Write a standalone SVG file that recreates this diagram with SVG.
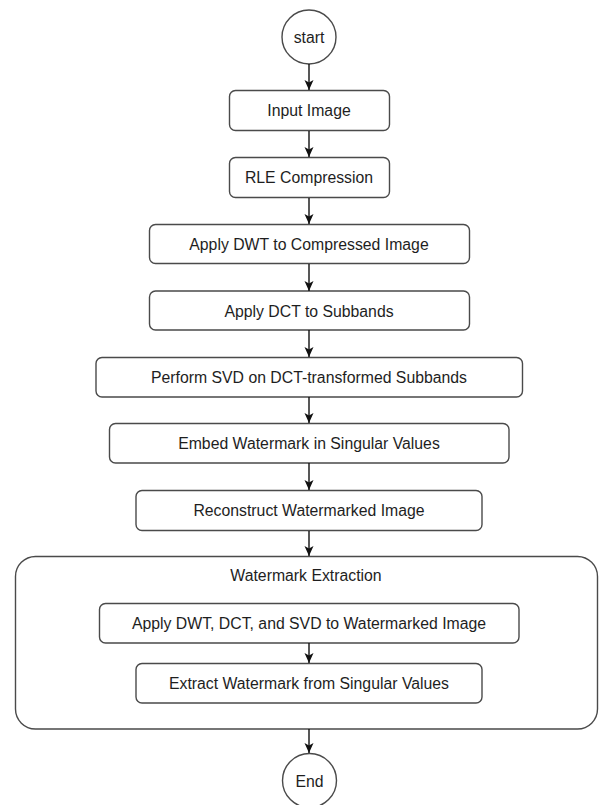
<svg xmlns="http://www.w3.org/2000/svg" width="599" height="805" viewBox="0 0 599 805">
<defs>
<style>
.box{fill:#fff;stroke:#4a4a4a;stroke-width:1.4}
.lbl{font-family:"Liberation Sans",Arial,sans-serif;font-size:15.8px;fill:#1e1e1e;text-anchor:middle}
.edge{stroke:#111;stroke-width:1.4;fill:none}
</style>
<marker id="arr" viewBox="0 0 10 10" refX="10" refY="5" markerWidth="10" markerHeight="10" orient="auto" markerUnits="userSpaceOnUse">
<path d="M0,0.5 L10,5 L0,9.5 L2.5,5 Z" fill="#111"/>
</marker>
</defs>
<rect width="599" height="805" fill="#fff"/>
<g id="container">
<rect class="box" x="15.5" y="556.5" width="582" height="172.5" rx="20" ry="20"/>
<text class="lbl" x="306" y="581">Watermark Extraction</text>
</g>
<g id="start">
<circle class="box" cx="309" cy="37" r="27"/>
<text class="lbl" x="309" y="43">start</text>
</g>
<g id="input">
<rect class="box" x="229.5" y="90.5" width="160" height="40" rx="6"/>
<text class="lbl" x="309" y="116">Input Image</text>
</g>
<g id="rle">
<rect class="box" x="229.5" y="157.5" width="160" height="40" rx="6"/>
<text class="lbl" x="309" y="183">RLE Compression</text>
</g>
<g id="dwt">
<rect class="box" x="149.5" y="224.5" width="320" height="39" rx="6"/>
<text class="lbl" x="309" y="250">Apply DWT to Compressed Image</text>
</g>
<g id="dct">
<rect class="box" x="149.5" y="291" width="320" height="39" rx="6"/>
<text class="lbl" x="309" y="316.5">Apply DCT to Subbands</text>
</g>
<g id="svd">
<rect class="box" x="96" y="357.5" width="426.5" height="39.5" rx="6"/>
<text class="lbl" x="309" y="383">Perform SVD on DCT-transformed Subbands</text>
</g>
<g id="embed">
<rect class="box" x="109.5" y="423.5" width="399.5" height="39.5" rx="6"/>
<text class="lbl" x="309" y="449">Embed Watermark in Singular Values</text>
</g>
<g id="reconstruct">
<rect class="box" x="136" y="490.5" width="346" height="40" rx="6"/>
<text class="lbl" x="309" y="516">Reconstruct Watermarked Image</text>
</g>
<g id="extract-apply">
<rect class="box" x="99.5" y="603.5" width="419.5" height="39.5" rx="6"/>
<text class="lbl" x="309" y="629">Apply DWT, DCT, and SVD to Watermarked Image</text>
</g>
<g id="extract">
<rect class="box" x="136" y="663.5" width="346" height="39.5" rx="6"/>
<text class="lbl" x="309" y="689">Extract Watermark from Singular Values</text>
</g>
<g id="end">
<circle class="box" cx="309.5" cy="780.5" r="27"/>
<text class="lbl" x="309.5" y="786.5">End</text>
</g>
<g id="connectors">
<line class="edge" x1="309" y1="64" x2="309" y2="90" marker-end="url(#arr)"/>
<line class="edge" x1="309" y1="131" x2="309" y2="157" marker-end="url(#arr)"/>
<line class="edge" x1="309" y1="198" x2="309" y2="224" marker-end="url(#arr)"/>
<line class="edge" x1="309" y1="264" x2="309" y2="291" marker-end="url(#arr)"/>
<line class="edge" x1="309" y1="330" x2="309" y2="357" marker-end="url(#arr)"/>
<line class="edge" x1="309" y1="397" x2="309" y2="423" marker-end="url(#arr)"/>
<line class="edge" x1="309" y1="463" x2="309" y2="490" marker-end="url(#arr)"/>
<line class="edge" x1="309" y1="531" x2="309" y2="556" marker-end="url(#arr)"/>
<line class="edge" x1="309" y1="643" x2="309" y2="663" marker-end="url(#arr)"/>
<line class="edge" x1="309" y1="729" x2="309" y2="753" marker-end="url(#arr)"/>
</g>
</svg>
